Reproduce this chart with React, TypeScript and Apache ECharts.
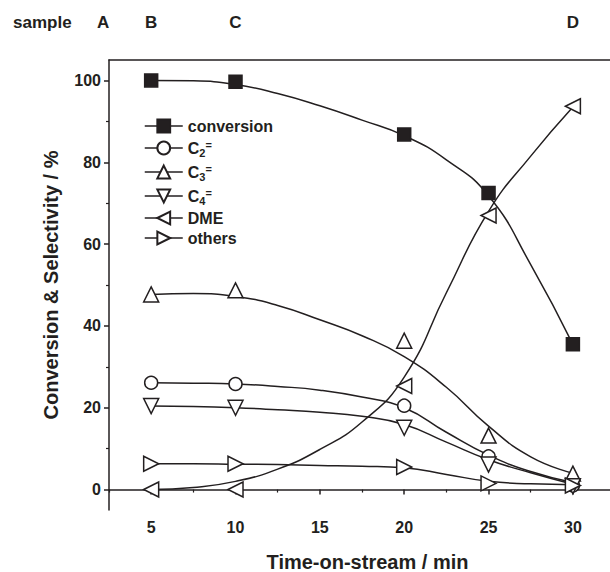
import React, { useEffect, useRef } from "react";
import * as echarts from "echarts";

// measured points
const times = [5, 10, 20, 25, 30];
const conversion = [100, 99.7, 86.8, 72.5, 35.5];
const c2 = [26.1, 25.8, 20.5, 8.1, 1.0];
const c3 = [47.7, 48.7, 36.4, 13.2, 3.9];
const c4 = [20.4, 20.0, 15.1, 6.1, 0.8];
const dme = [0, 0, 25.3, 67, 93.7];
const others = [6.3, 6.3, 5.5, 1.5, 1.0];

// fitted guide curves
const fitTimes = [5, 7.5, 10, 12.5, 15, 17.5, 20, 22.5, 25, 27.5, 30];
const conversionFit = [100, 99.9, 99.0, 96.8, 93.8, 90.3, 86.5, 80.6, 71.8, 55.0, 35.5];
const c2Fit = [26.1, 26.0, 25.8, 25.2, 24.3, 22.6, 20.0, 14.0, 8.4, 4.4, 1.7];
const c3Fit = [47.7, 47.9, 47.2, 45.0, 41.5, 37.6, 32.5, 25.0, 15.5, 8.0, 4.0];
const c4Fit = [20.4, 20.3, 20.0, 19.5, 18.9, 17.9, 15.9, 11.6, 7.3, 4.1, 1.3];
const dmeFit = [0, 0.5, 2.0, 5.0, 9.8, 16.5, 27.5, 48.1, 68.0, 81.5, 93.5];
const othersFit = [6.3, 6.3, 6.2, 6.1, 5.9, 5.7, 5.3, 3.7, 2.0, 1.4, 1.2];

const xMajorTicks = [5, 10, 15, 20, 25, 30];
const xMinorTicks = [2.5, 7.5, 12.5, 17.5, 22.5, 27.5];
const yMajorTicks = [0, 20, 40, 60, 80, 100];
const yMinorTicks = [10, 30, 50, 70, 90];
const sampleTickX = [5, 10, 30];
const sampleLabels = ["B", "C", "D"];

const INK = "#231f20";
const FONT = "Liberation Sans, Arial, sans-serif";

const legendRich = {
  b: { fontSize: 16, fontWeight: "bold", fontFamily: FONT, color: INK, lineHeight: 16 },
  sub: { fontSize: 11, fontWeight: "bold", fontFamily: FONT, color: INK, lineHeight: 16, padding: [9, 0, 0, 0] },
  sup: { fontSize: 11, fontWeight: "bold", fontFamily: FONT, color: INK, lineHeight: 16, padding: [0, 0, 7, 0] },
};

export default function App() {
  const ref = useRef<HTMLDivElement>(null);
  useEffect(() => {
    document.body.style.margin = "0";
    const chart = echarts.init(ref.current!, null, { renderer: "svg" });
    const marker = (name: string, data: number[], symbol: string, rotate: number, size: number, filled: boolean) => ({
      name,
      type: "line",
      xAxisIndex: 0,
      yAxisIndex: 0,
      data: times.map((t, i) => [t, data[i]]),
      symbol,
      symbolRotate: rotate,
      symbolSize: size,
      showSymbol: true,
      lineStyle: { color: INK, width: 0, opacity: 0 },
      itemStyle: { color: filled ? INK : "#ffffff", borderColor: INK, borderWidth: 1.5 },
      z: 4,
    });
    const fit = (name: string, data: number[]) => ({
      name,
      type: "line",
      xAxisIndex: 0,
      yAxisIndex: 0,
      data: fitTimes.map((t, i) => [t, data[i]]),
      smooth: 0.5,
      showSymbol: false,
      symbol: "none",
      lineStyle: { color: INK, width: 1.5 },
      z: 2,
      silent: true,
    });
    chart.setOption({
      animation: false,
      backgroundColor: "#ffffff",
      grid: { left: 109, right: 0, top: 60, bottom: 62, containLabel: false, outerBoundsMode: "none" },
      legend: {
        orient: "vertical",
        left: 144,
        top: 118,
        padding: 0,
        itemWidth: 38,
        itemHeight: 16,
        itemGap: 4,
        symbolRotate: "inherit",
        lineStyle: { color: INK, width: 1.5, opacity: 1 },
        textStyle: { fontSize: 16, fontWeight: "bold", fontFamily: FONT, color: INK, lineHeight: 16, rich: legendRich },
        formatter: (name: string) => {
          const m = name.match(/^C(\d)=$/);
          if (m) return `{b|C}{sub|${m[1]}}{sup|=}`;
          return `{b|${name}}`;
        },
        data: ["conversion", "C2=", "C3=", "C4=", "DME", "others"],
      },
      xAxis: [
        {
          type: "value",
          position: "bottom",
          min: 2.5,
          max: 32.2,
          name: "Time-on-stream / min",
          nameLocation: "middle",
          nameGap: 42,
          nameTextStyle: { fontSize: 20, lineHeight: 20, fontWeight: "bold", fontFamily: FONT, color: INK, padding: [0, 0, 0, 16] },
          axisLine: { show: true, lineStyle: { color: INK, width: 1.5 } },
          axisTick: { show: true, inside: false, length: 5, customValues: xMajorTicks, lineStyle: { color: INK, width: 1.5 } },
          axisLabel: { show: true, customValues: xMajorTicks, margin: 9, fontSize: 16, fontWeight: "bold", fontFamily: FONT, color: INK },
          splitLine: { show: false },
        },
        {
          type: "value",
          position: "bottom",
          min: 2.5,
          max: 32.2,
          axisLine: { show: false },
          axisTick: { show: true, length: 3, customValues: xMinorTicks, lineStyle: { color: INK, width: 1.2 } },
          axisLabel: { show: false },
          splitLine: { show: false },
        },
        {
          type: "value",
          position: "top",
          min: 2.5,
          max: 32.2,
          axisLine: { show: true, lineStyle: { color: INK, width: 1.5 } },
          axisTick: { show: false },
          axisLabel: {
            show: true,
            customValues: sampleTickX,
            margin: 29,
            fontSize: 17,
            fontWeight: "bold",
            fontFamily: FONT,
            color: INK,
            formatter: (v: number) => {
              const idx = sampleTickX.indexOf(v);
              return idx >= 0 ? sampleLabels[idx] : "";
            },
          },
          splitLine: { show: false },
        },
      ],
      yAxis: [
        {
          type: "value",
          position: "left",
          min: -5,
          max: 105,
          name: "Conversion & Selectivity / %",
          nameLocation: "middle",
          nameGap: 48,
          nameTextStyle: { fontSize: 20, fontWeight: "bold", fontFamily: FONT, color: INK },
          axisLine: { show: true, lineStyle: { color: INK, width: 1.5 } },
          axisTick: { show: true, length: 5, customValues: yMajorTicks, lineStyle: { color: INK, width: 1.5 } },
          axisLabel: { show: true, customValues: yMajorTicks, margin: 8, fontSize: 16, fontWeight: "bold", fontFamily: FONT, color: INK },
          splitLine: { show: false },
        },
        {
          type: "value",
          position: "left",
          offset: 0,
          min: -5,
          max: 105,
          axisLine: { show: false },
          axisTick: { show: true, length: 3, customValues: yMinorTicks, lineStyle: { color: INK, width: 1.2 } },
          axisLabel: { show: false },
          splitLine: { show: false },
        },
      ],
      graphic: [
        { type: "text", left: 13, top: 14, style: { text: "sample", fontSize: 17, fontWeight: "bold", fontFamily: FONT, fill: INK } },
        { type: "text", left: 97, top: 14, style: { text: "A", fontSize: 17, fontWeight: "bold", fontFamily: FONT, fill: INK } },
      ],
      series: [
        fit("conversion fit", conversionFit),
        fit("C2= fit", c2Fit),
        fit("C3= fit", c3Fit),
        fit("C4= fit", c4Fit),
        fit("DME fit", dmeFit),
        fit("others fit", othersFit),
        marker("conversion", conversion, "rect", 0, 13, true),
        marker("C2=", c2, "circle", 0, 13, false),
        marker("C3=", c3, "triangle", 0, 15, false),
        marker("C4=", c4, "triangle", 180, 15, false),
        marker("DME", dme, "triangle", 90, 15, false),
        marker("others", others, "triangle", -90, 15, false),
      ],
    });
    return () => chart.dispose();
  }, []);
  return <div ref={ref} style={{ width: 610, height: 572 }} />;
}
